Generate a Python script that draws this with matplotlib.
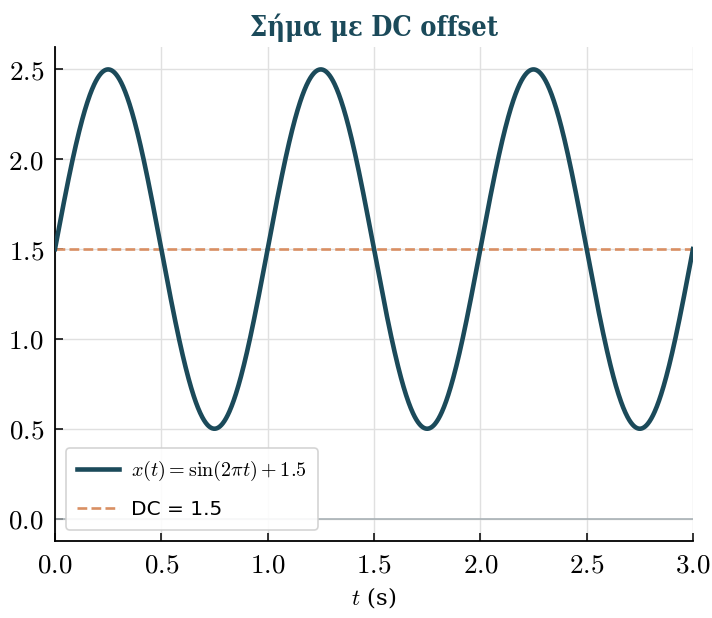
import numpy as np
import matplotlib
matplotlib.use("Agg")
import matplotlib.pyplot as plt
from matplotlib.ticker import FuncFormatter

# ── Data ──────────────────────────────────────────────────────────────────────
FREQ = 1.0            # Hz
DC = 1.5              # offset
T_END = 3.0           # s
t = np.linspace(0, T_END, 1500)
x = np.sin(2 * np.pi * FREQ * t) + DC

xticks = [0.0, 0.5, 1.0, 1.5, 2.0, 2.5, 3.0]
yticks = [0.0, 0.5, 1.0, 1.5, 2.0, 2.5]

TITLE = "Σήμα με DC offset"
SIG_LABEL = r"$x(t) = \sin(2\pi t) + 1.5$"
DC_LABEL = "DC = 1.5"

# ── Style ─────────────────────────────────────────────────────────────────────
C_SIG = "#1b4a5a"
C_DC = "#d98f63"
plt.rcParams["mathtext.fontset"] = "cm"
plt.rcParams["font.family"] = ["DejaVu Sans"]

fig = plt.figure(figsize=(7.12, 6.18), dpi=100)
ax = fig.add_axes([0.0772, 0.1246, 0.8961, 0.7994])

ax.plot(t, x, color=C_SIG, lw=3.3, label=SIG_LABEL, zorder=3)
ax.axhline(DC, color=C_DC, lw=1.9, ls="--", label=DC_LABEL, zorder=2)
ax.axhline(0, color="#a3acb1", lw=1.1, zorder=1)

ax.set_xlim(0, T_END)
ax.set_xticks(xticks)
ax.set_yticks(yticks)
fmt = FuncFormatter(lambda v, p: f"${v:.1f}$")
ax.xaxis.set_major_formatter(fmt)
ax.yaxis.set_major_formatter(fmt)

ax.grid(True, color="#e0e0e0", lw=1.0, zorder=0)
ax.set_axisbelow(True)
for side in ("top", "right"):
    ax.spines[side].set_visible(False)
for side in ("left", "bottom"):
    ax.spines[side].set_linewidth(1.3)
ax.tick_params(direction="in", length=6, width=1.1, labelsize=19.5, pad=8)

ax.set_title(TITLE, fontsize=19.5, fontweight="bold", color=C_SIG,
             family="DejaVu Serif", fontstretch="condensed", pad=8)
ax.set_xlabel(r"$t$ (s)", fontsize=16.5, family="DejaVu Serif", labelpad=5)

leg = ax.legend(loc="lower left", fontsize=14.5, frameon=True, fancybox=True,
                edgecolor="#d0d0d0", framealpha=0.9, borderaxespad=0.55,
                labelspacing=0.85, borderpad=0.55, handlelength=2.1,
                handletextpad=0.6)
leg.get_frame().set_linewidth(1.2)

fig.savefig("out.png", dpi=100)
